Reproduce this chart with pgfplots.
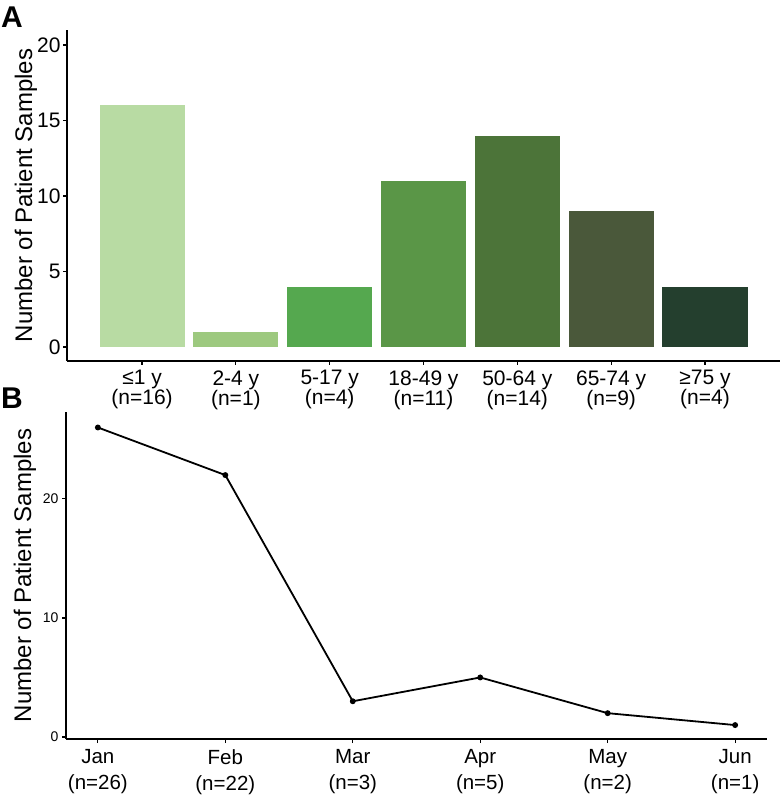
\documentclass[border=0pt]{standalone}
\usepackage{pgfplots}
\pgfplotsset{compat=1.18}
\usepackage{fontspec}
\setmainfont{Liberation Sans}
\definecolor{c1}{HTML}{B8DBA3}
\definecolor{c2}{HTML}{9DC97F}
\definecolor{c3}{HTML}{55A84F}
\definecolor{c4}{HTML}{5A9647}
\definecolor{c5}{HTML}{4C7439}
\definecolor{c6}{HTML}{4A583A}
\definecolor{c7}{HTML}{243F2E}
\begin{document}
\begin{tikzpicture}[x=1pt,y=1pt]
\useasboundingbox (0,0) rectangle (780,797);
\node[anchor=base west, inner sep=0pt, font=\fontsize{30}{30}\selectfont\bfseries] at (1,769) {A};
\node[anchor=base west, inner sep=0pt, font=\fontsize{30}{30}\selectfont\bfseries] at (1,388) {B};
\begin{axis}[at={(67pt,436pt)}, anchor=south west, scale only axis,
  width=713pt, height=331pt,
  xmin=-0.8, xmax=6.8, ymin=-0.93, ymax=21,
  axis x line*=bottom, axis y line*=left,
  axis line style={line width=1.8pt},
  ytick={0,5,10,15,20}, xtick={0,...,6},
  xticklabels={{≤1 y\\(n=16)},{2-4 y\\(n=1)},{5-17 y\\(n=4)},{18-49 y\\(n=11)},{50-64 y\\(n=14)},{65-74 y\\(n=9)},{≥75 y\\(n=4)}},
  tick align=outside, major tick length=4pt,
  tick style={black, line width=1.2pt},
  xticklabel style={font=\fontsize{21}{20}\selectfont, align=center, yshift=-2pt},
  yticklabel style={font=\fontsize{21}{22}\selectfont, xshift=1pt},
  /pgf/number format/assume math mode=true,
  ylabel={Number of Patient Samples},
  ylabel style={font=\fontsize{24}{25}\selectfont, at={(axis description cs:-0.0575,0.5)}, anchor=center},
]
\addplot[ybar, bar width=0.907, bar shift=0pt, fill=c1, draw=none] coordinates {(0,16)};
\addplot[ybar, bar width=0.907, bar shift=0pt, fill=c2, draw=none] coordinates {(1,1)};
\addplot[ybar, bar width=0.907, bar shift=0pt, fill=c3, draw=none] coordinates {(2,4)};
\addplot[ybar, bar width=0.907, bar shift=0pt, fill=c4, draw=none] coordinates {(3,11)};
\addplot[ybar, bar width=0.907, bar shift=0pt, fill=c5, draw=none] coordinates {(4,14)};
\addplot[ybar, bar width=0.907, bar shift=0pt, fill=c6, draw=none] coordinates {(5,9)};
\addplot[ybar, bar width=0.907, bar shift=0pt, fill=c7, draw=none] coordinates {(6,4)};
\end{axis}
\begin{axis}[at={(66pt,58pt)}, anchor=south west, scale only axis,
  width=701pt, height=327pt,
  xmin=-0.25, xmax=5.25, ymin=-0.17, ymax=27.3,
  axis x line*=bottom, axis y line*=left,
  axis line style={line width=1.8pt},
  ytick={0,10,20}, xtick={0,...,5},
  xticklabels={{Jan\\(n=26)},{Feb\\(n=22)},{Mar\\(n=3)},{Apr\\(n=5)},{May\\(n=2)},{Jun\\(n=1)}},
  tick align=outside, major tick length=4pt,
  tick style={black, line width=1.2pt},
  xticklabel style={font=\fontsize{20.5}{26}\selectfont, align=center, yshift=-3pt},
  yticklabel style={font=\fontsize{14}{16}\selectfont},
  /pgf/number format/assume math mode=true,
  ylabel={Number of Patient Samples},
  ylabel style={font=\fontsize{24}{25}\selectfont, at={(axis description cs:-0.0585,0.5)}, anchor=center},
]
\addplot[black, line width=1.8pt, mark=*, mark size=2pt] coordinates {(0,26)(1,22)(2,3)(3,5)(4,2)(5,1)};
\end{axis}
\end{tikzpicture}
\end{document}
